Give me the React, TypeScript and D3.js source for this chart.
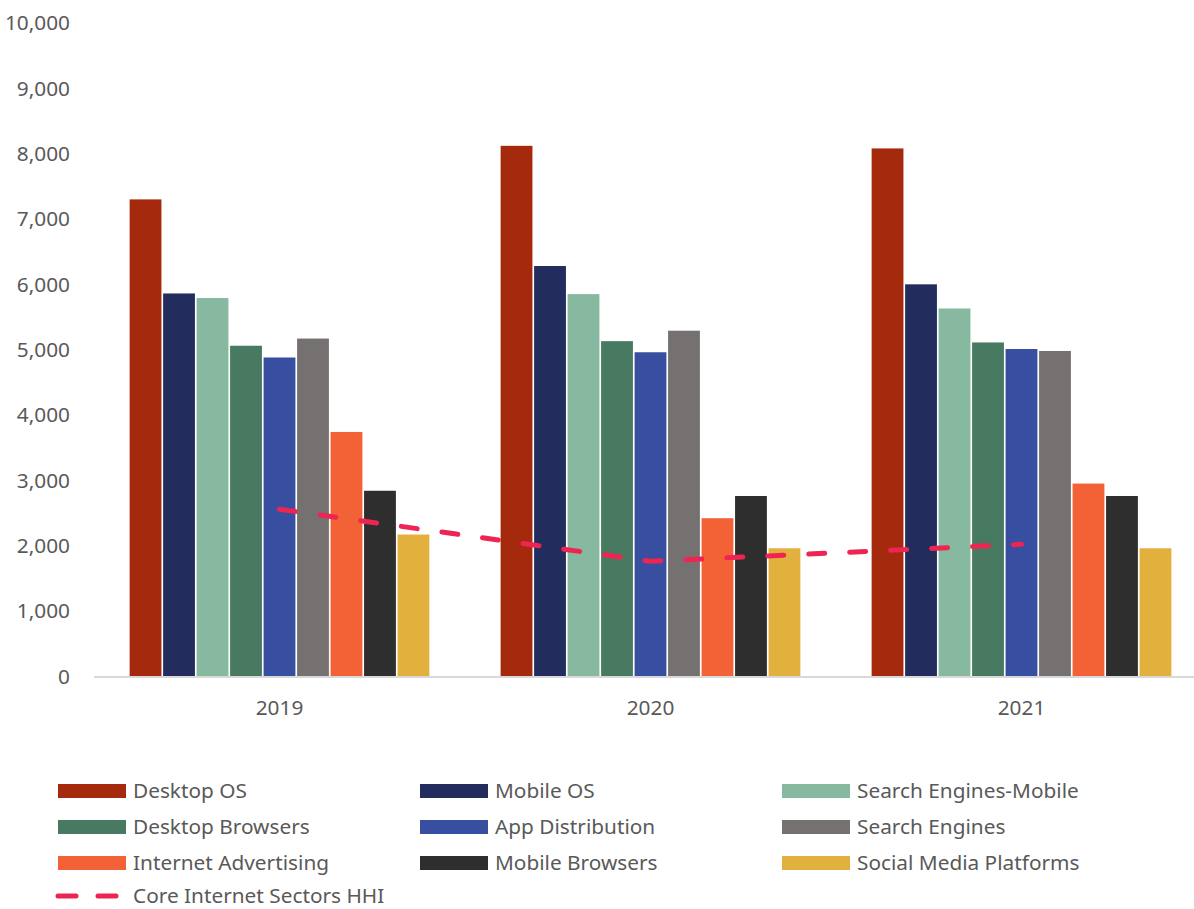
import React from "react";
import * as d3 from "d3";

const years = ["2019", "2020", "2021"];
const seriesNames = [
  "Desktop OS",
  "Mobile OS",
  "Search Engines-Mobile",
  "Desktop Browsers",
  "App Distribution",
  "Search Engines",
  "Internet Advertising",
  "Mobile Browsers",
  "Social Media Platforms",
];
const seriesColors = [
  "#A52A0D",
  "#222D5E",
  "#86B99F",
  "#477A60",
  "#384EA0",
  "#747170",
  "#F26236",
  "#2E2E2E",
  "#E2B03C",
];
const desktopOS = [7300, 8120, 8080];
const mobileOS = [5860, 6280, 6000];
const searchEnginesMobile = [5790, 5850, 5630];
const desktopBrowsers = [5060, 5130, 5110];
const appDistribution = [4880, 4960, 5010];
const searchEngines = [5170, 5290, 4980];
const internetAdvertising = [3740, 2420, 2950];
const mobileBrowsers = [2840, 2760, 2760];
const socialMedia = [2170, 1960, 1960];
const seriesValues = [
  desktopOS,
  mobileOS,
  searchEnginesMobile,
  desktopBrowsers,
  appDistribution,
  searchEngines,
  internetAdvertising,
  mobileBrowsers,
  socialMedia,
];
const hhiName = "Core Internet Sectors HHI";
const hhiValues = [2556, 1760, 2020];
const hhiColor = "#EE2452";
const yTicks = [0, 1000, 2000, 3000, 4000, 5000, 6000, 7000, 8000, 9000, 10000];

const W = 1194;
const H = 909;
const FONT = "'Noto Sans', sans-serif";
const TEXT = "#595959";
const FS = 20.8;

export default function App() {
  const y = d3.scaleLinear().domain([0, 10000]).range([676.3, 23]);
  const x0 = d3
    .scaleBand<string>()
    .domain(years)
    .range([94, 1207])
    .paddingInner(0.183)
    .paddingOuter(0.0915);
  const x1 = d3
    .scaleBand<string>()
    .domain(seriesNames)
    .range([0, x0.bandwidth()])
    .padding(0.05);
  const fmt = d3.format(",");
  const line = d3
    .line<number>()
    .x((_, i) => (x0(years[i]) as number) + x0.bandwidth() / 2)
    .y((v) => y(v));

  const legendCols = [58, 420, 782];
  const legendRows = [791, 827, 863, 896];

  return (
    <svg
      width={W}
      height={H}
      style={{ position: "absolute", left: 0, top: 0, background: "#fff" }}
      fontFamily={FONT}
    >
      {yTicks.map((t) => (
        <text
          key={t}
          x={70}
          y={y(t)}
          dy="0.35em"
          textAnchor="end"
          fontSize={FS}
          fill={TEXT}
        >
          {fmt(t)}
        </text>
      ))}
      {years.map((yr, gi) => (
        <g key={yr} transform={`translate(${x0(yr)},0)`}>
          {seriesNames.map((s, si) => (
            <rect
              key={s}
              x={x1(s)}
              y={y(seriesValues[si][gi])}
              width={x1.bandwidth()}
              height={y(0) - y(seriesValues[si][gi])}
              fill={seriesColors[si]}
            />
          ))}
          <text
            x={x0.bandwidth() / 2}
            y={708}
            dy="0.35em"
            textAnchor="middle"
            fontSize={FS}
            fill={TEXT}
          >
            {yr}
          </text>
        </g>
      ))}
      <line x1={94} x2={W} y1={677} y2={677} stroke="#D9D9D9" strokeWidth={2} />
      <path
        d={line(hhiValues) || ""}
        fill="none"
        stroke={hhiColor}
        strokeWidth={5}
        strokeDasharray="16 25"
        strokeLinecap="round"
      />
      {seriesNames.map((s, i) => {
        const cx = legendCols[i % 3];
        const cy = legendRows[Math.floor(i / 3)];
        return (
          <g key={s}>
            <rect x={cx} y={cy - 7} width={68} height={14} fill={seriesColors[i]} />
            <text x={cx + 75} y={cy} dy="0.35em" fontSize={FS} fill={TEXT}>
              {s}
            </text>
          </g>
        );
      })}
      <g>
        <line
          x1={58}
          x2={120}
          y1={legendRows[3]}
          y2={legendRows[3]}
          stroke={hhiColor}
          strokeWidth={5}
          strokeDasharray="18 22"
          strokeLinecap="round"
        />
        <text x={133} y={legendRows[3]} dy="0.35em" fontSize={FS} fill={TEXT}>
          {hhiName}
        </text>
      </g>
    </svg>
  );
}
